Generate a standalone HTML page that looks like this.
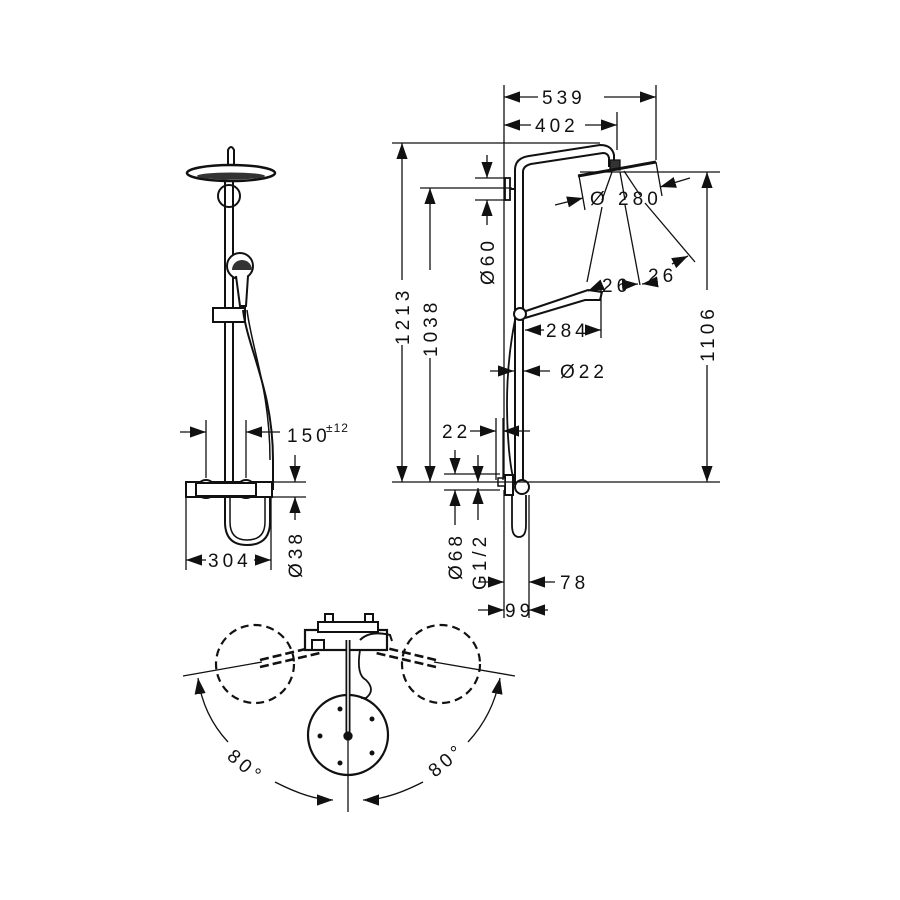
<!DOCTYPE html>
<html><head><meta charset="utf-8"><style>
html,body{margin:0;padding:0;background:#fff;}
svg{display:block}
text{font-family:"Liberation Sans",sans-serif;font-size:19px;fill:#111;letter-spacing:4px}
</style></head><body>
<svg width="900" height="900" viewBox="0 0 900 900" xmlns="http://www.w3.org/2000/svg">
<defs>
<marker id="b" viewBox="0 0 10 10" refX="10" refY="5" markerWidth="16" markerHeight="16" markerUnits="userSpaceOnUse" orient="auto"><path d="M0,1.5L10,5L0,8.5z" fill="#111"/></marker>
</defs>
<g stroke="#111" fill="none" stroke-width="1.3">
<!-- LEFT VIEW -->
<path d="M228,150 q3,-6 6,0 v15 h-6z" fill="#fff" stroke-width="2"/>
<ellipse cx="231" cy="173" rx="44" ry="8" stroke-width="2.5"/>
<ellipse cx="231" cy="176" rx="34" ry="3.5" fill="#333" stroke="none"/>
<circle cx="229" cy="196" r="11" stroke-width="2"/>
<line x1="225" y1="182" x2="225" y2="490" stroke-width="2"/>
<line x1="233" y1="182" x2="233" y2="490" stroke-width="2"/>
<circle cx="240" cy="266" r="13" stroke-width="2" fill="#fff"/>
<path d="M232,270 a10,10 0 0 1 20,0z" fill="#333" stroke="none"/>
<path d="M236,276 l4,30 h6 l2,-30" stroke-width="2" fill="#fff"/>
<rect x="213" y="308" width="32" height="14" stroke-width="2" fill="#fff"/>
<path d="M243,310 c5,40 30,80 30,150 v30" stroke-width="2"/>
<path d="M247,310 c5,40 23,80 23,150" stroke-width="1.5"/>
<path d="M225,497 v25 q0,23 22,23 q23,0 23,-23 v-25" stroke-width="2"/>
<path d="M230,497 v25 q0,18 17,18 q18,0 18,-18 v-25" stroke-width="1.5"/>
<rect x="186" y="482" width="86" height="15" stroke-width="2" fill="#fff"/>
<circle cx="206" cy="489" r="9" stroke-width="2" fill="#fff"/>
<circle cx="246" cy="489" r="9" stroke-width="2" fill="#fff"/>
<rect x="196" y="483" width="60" height="13" stroke-width="2" fill="#fff"/>
<line x1="206" y1="420" x2="206" y2="478"/><line x1="246" y1="420" x2="246" y2="478"/>
<line x1="180" y1="432" x2="206" y2="432" marker-end="url(#b)"/>
<line x1="280" y1="432" x2="246" y2="432" marker-end="url(#b)"/>
<line x1="272" y1="482" x2="306" y2="482"/><line x1="272" y1="497" x2="306" y2="497"/>
<line x1="295" y1="455" x2="295" y2="482" marker-end="url(#b)"/>
<line x1="295" y1="520" x2="295" y2="497" marker-end="url(#b)"/>
<line x1="186" y1="497" x2="186" y2="570"/><line x1="271" y1="497" x2="271" y2="570"/>
<line x1="206" y1="560" x2="186" y2="560" marker-end="url(#b)"/>
<line x1="254" y1="560" x2="271" y2="560" marker-end="url(#b)"/>
<!-- RIGHT VIEW -->
<path d="M515,485 V170 q0,-12 14,-14 L600,145 q12,0 14,10 v12" stroke-width="2"/>
<path d="M523,485 V172 q0,-6 8,-8 L603,153 q5,0 6,5 v9" stroke-width="2"/>
<path d="M610,160 h10 v10 h-10z" fill="#333"/>
<line x1="578" y1="176" x2="656" y2="162" stroke-width="3"/>
<rect x="505" y="178" width="5" height="22" stroke-width="1.8" fill="#fff"/>
<line x1="510" y1="189" x2="515" y2="189" stroke-width="2"/>
<path d="M520,313 L588,290 L602,292 L600,300 L585,300 L525,318" stroke-width="2" fill="#fff"/>
<circle cx="520" cy="314" r="6" stroke-width="2" fill="#fff"/>
<path d="M515,320 q-12,60 -6,130 q3,30 6,30" stroke-width="1.8"/>
<path d="M512,495 v30 q0,12 7,12 q7,0 7,-12 v-30" stroke-width="1.8"/>
<rect x="505" y="475" width="8" height="20" stroke-width="2" fill="#fff"/>
<rect x="498" y="478" width="7" height="8" stroke-width="1.5" fill="#fff"/>
<circle cx="522" cy="487" r="7" stroke-width="2" fill="#fff"/>
<!-- dims right -->
<line x1="504" y1="85" x2="504" y2="478"/><line x1="656" y1="85" x2="656" y2="160"/><line x1="617" y1="112" x2="617" y2="150"/>
<line x1="538" y1="97" x2="504" y2="97" marker-end="url(#b)"/>
<line x1="604" y1="97" x2="656" y2="97" marker-end="url(#b)"/>
<line x1="531" y1="125" x2="504" y2="125" marker-end="url(#b)"/>
<line x1="585" y1="125" x2="617" y2="125" marker-end="url(#b)"/>
<line x1="392" y1="143" x2="600" y2="143"/>
<line x1="420" y1="188" x2="512" y2="188"/>
<line x1="580" y1="172" x2="720" y2="172"/>
<line x1="392" y1="482" x2="720" y2="482"/>
<line x1="402" y1="280" x2="402" y2="143" marker-end="url(#b)"/>
<line x1="402" y1="345" x2="402" y2="482" marker-end="url(#b)"/>
<line x1="430" y1="270" x2="430" y2="188" marker-end="url(#b)"/>
<line x1="430" y1="358" x2="430" y2="482" marker-end="url(#b)"/>
<line x1="707" y1="290" x2="707" y2="172" marker-end="url(#b)"/>
<line x1="707" y1="365" x2="707" y2="482" marker-end="url(#b)"/>
<line x1="475" y1="178" x2="505" y2="178"/><line x1="475" y1="200" x2="505" y2="200"/>
<line x1="487" y1="155" x2="487" y2="178" marker-end="url(#b)"/>
<line x1="487" y1="225" x2="487" y2="200" marker-end="url(#b)"/>
<line x1="579" y1="176" x2="585" y2="210"/><line x1="656" y1="162" x2="662" y2="196"/>
<line x1="555" y1="205" x2="583" y2="198" marker-end="url(#b)"/>
<line x1="690" y1="178" x2="660" y2="187" marker-end="url(#b)"/>
<line x1="612" y1="172" x2="602" y2="200"/>
<line x1="602" y1="207" x2="587" y2="282"/>
<line x1="620" y1="172" x2="625" y2="200"/>
<line x1="625" y1="205" x2="640" y2="285"/>
<line x1="624" y1="171" x2="640" y2="195"/>
<line x1="645" y1="203" x2="695" y2="262"/>
<line x1="602" y1="285" x2="588" y2="291" marker-end="url(#b)"/>
<line x1="622" y1="285" x2="638" y2="284" marker-end="url(#b)"/>
<line x1="657" y1="282" x2="642" y2="284" marker-end="url(#b)"/>
<line x1="672" y1="264" x2="688" y2="256" marker-end="url(#b)"/>
<line x1="601" y1="290" x2="601" y2="338"/>
<line x1="544" y1="330" x2="525" y2="330" marker-end="url(#b)"/>
<line x1="588" y1="330" x2="601" y2="330" marker-end="url(#b)"/>
<line x1="490" y1="371" x2="514" y2="371" marker-end="url(#b)"/>
<line x1="550" y1="371" x2="524" y2="371" marker-end="url(#b)"/>
<line x1="496" y1="418" x2="496" y2="480"/><line x1="503" y1="418" x2="503" y2="480"/>
<line x1="470" y1="431" x2="496" y2="431" marker-end="url(#b)"/>
<line x1="530" y1="431" x2="503" y2="431" marker-end="url(#b)"/>
<line x1="444" y1="474" x2="500" y2="474"/><line x1="444" y1="490" x2="500" y2="490"/>
<line x1="455" y1="450" x2="455" y2="474" marker-end="url(#b)"/>
<line x1="455" y1="525" x2="455" y2="490" marker-end="url(#b)"/>
<line x1="478" y1="455" x2="478" y2="482" marker-end="url(#b)"/>
<line x1="478" y1="520" x2="478" y2="488" marker-end="url(#b)"/>
<line x1="504" y1="490" x2="504" y2="618"/><line x1="529" y1="495" x2="529" y2="618"/>
<line x1="478" y1="582" x2="504" y2="582" marker-end="url(#b)"/>
<line x1="555" y1="582" x2="529" y2="582" marker-end="url(#b)"/>
<line x1="478" y1="610" x2="504" y2="610" marker-end="url(#b)"/>
<line x1="548" y1="610" x2="529" y2="610" marker-end="url(#b)"/>
<!-- BOTTOM TOP VIEW -->
<circle cx="255" cy="664" r="39" stroke-width="2.2" stroke-dasharray="8,5"/>
<circle cx="441" cy="664" r="39" stroke-width="2.2" stroke-dasharray="8,5"/>
<path d="M260,660 L318,646 M260,667 L320,653" stroke-width="2.6" stroke-dasharray="9,4"/>
<path d="M436,660 L378,646 M436,667 L376,653" stroke-width="2.6" stroke-dasharray="9,4"/>
<line x1="183" y1="676" x2="262" y2="662"/><line x1="515" y1="676" x2="434" y2="662"/>
<rect x="305" y="630" width="82" height="20" stroke-width="2.2" fill="#fff"/>
<rect x="318" y="622" width="60" height="10" stroke-width="2" fill="#fff"/>
<rect x="325" y="614" width="8" height="8" stroke-width="2"/>
<rect x="365" y="614" width="8" height="8" stroke-width="2"/>
<rect x="312" y="640" width="12" height="10" stroke-width="2"/>
<path d="M360,640 q10,-10 30,-5 l2,6" stroke-width="2"/>
<path d="M360,650 q-4,25 6,30 q10,10 0,18 h-5" stroke-width="1.8"/>
<circle cx="348" cy="735" r="40" stroke-width="2.2"/>
<line x1="348" y1="640" x2="348" y2="738" stroke-width="5"/>
<line x1="348" y1="640" x2="348" y2="738" stroke="#fff" stroke-width="1.5"/>
<circle cx="348" cy="736" r="4" fill="#111"/>
<g fill="#111" stroke="none"><circle cx="340" cy="709" r="2.5"/><circle cx="372" cy="719" r="2.5"/><circle cx="320" cy="736" r="2.5"/><circle cx="372" cy="753" r="2.5"/><circle cx="340" cy="763" r="2.5"/></g>
<line x1="348" y1="736" x2="348" y2="812"/>
<path d="M228,742 Q203,715 198,678" marker-end="url(#b)"/>
<path d="M275,782 Q310,800 333,800" marker-end="url(#b)"/>
<path d="M468,742 Q493,715 500,678" marker-end="url(#b)"/>
<path d="M423,782 Q388,800 363,800" marker-end="url(#b)"/>
</g>
<!-- TEXT -->
<text x="287" y="442">150</text>
<text x="326" y="432" style="font-size:12px;letter-spacing:1px">±12</text>
<text x="208" y="567">304</text>
<text transform="translate(302,578) rotate(-90)">Ø38</text>
<text x="542" y="104">539</text>
<text x="535" y="132">402</text>
<text transform="translate(409,345) rotate(-90)">1213</text>
<text transform="translate(437,357) rotate(-90)">1038</text>
<text transform="translate(714,362) rotate(-90)">1106</text>
<text transform="translate(494,285) rotate(-90)">Ø60</text>
<text x="590" y="205">Ø 280</text>
<text x="602" y="292">26</text>
<text x="648" y="282">26</text>
<text x="546" y="337">284</text>
<text x="560" y="378">Ø22</text>
<text x="442" y="438">22</text>
<text transform="translate(462,580) rotate(-90)">Ø68</text>
<text transform="translate(486,590) rotate(-90)">G1/2</text>
<text x="560" y="589">78</text>
<text x="505" y="617">99</text>
<text transform="translate(226,758) rotate(40)">80°</text>
<text transform="translate(435,778) rotate(-40)">80°</text>
</svg>
</body></html>
